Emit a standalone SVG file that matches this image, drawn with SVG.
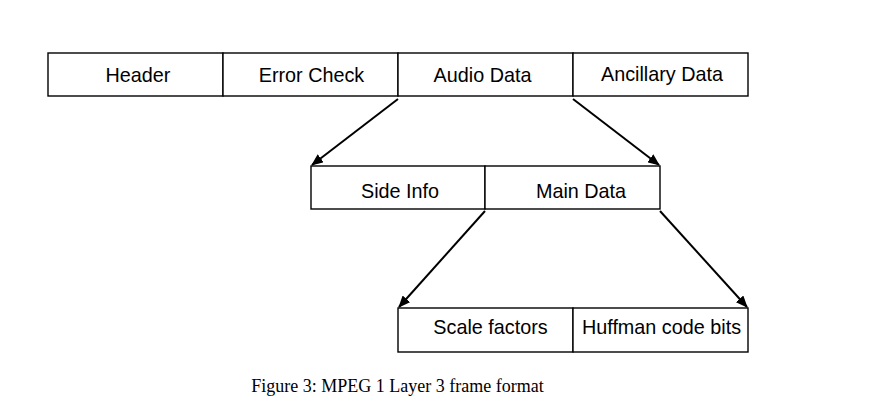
<svg xmlns="http://www.w3.org/2000/svg" width="888" height="412" viewBox="0 0 888 412">
<style>
.box{fill:#fff;stroke:#000;stroke-width:1.4}
.lbl{font-family:"Liberation Sans",Arial,sans-serif;font-size:19.8px;fill:#000;text-anchor:middle}
.cap{font-family:"Liberation Serif","Times New Roman",serif;font-size:18px;fill:#000;text-anchor:middle}
.arr{stroke:#000;stroke-width:2;fill:none;marker-end:url(#ah)}
</style>
<defs>
<marker id="ah" viewBox="0 0 12 10" refX="11" refY="5" markerWidth="12" markerHeight="10" markerUnits="userSpaceOnUse" orient="auto">
<path d="M0,0 L12,5 L0,10 Z" fill="#000"/>
</marker>
</defs>
<rect width="888" height="412" fill="#fff"/>
<g id="header"><rect class="box" x="48" y="53" width="175" height="43"/><text class="lbl" x="138" y="82">Header</text></g>
<g id="error-check"><rect class="box" x="223" y="53" width="175" height="43"/><text class="lbl" x="311.5" y="82">Error Check</text></g>
<g id="audio-data"><rect class="box" x="398" y="53" width="175" height="43"/><text class="lbl" x="482.5" y="82">Audio Data</text></g>
<g id="ancillary-data"><rect class="box" x="573" y="53" width="175" height="43"/><text class="lbl" x="662" y="80.5">Ancillary Data</text></g>
<g id="side-info"><rect class="box" x="311" y="166" width="174" height="43"/><text class="lbl" x="400" y="198">Side Info</text></g>
<g id="main-data"><rect class="box" x="485" y="166" width="175" height="43"/><text class="lbl" x="581" y="198">Main Data</text></g>
<g id="scale-factors"><rect class="box" x="398" y="308" width="175" height="44"/><text class="lbl" x="490.5" y="334">Scale factors</text></g>
<g id="huffman"><rect class="box" x="573" y="308" width="175" height="44"/><text class="lbl" x="661.5" y="334">Huffman code bits</text></g>
<g id="connectors">
<line class="arr" x1="398" y1="99" x2="312" y2="165"/>
<line class="arr" x1="573" y1="99" x2="659" y2="165"/>
<line class="arr" x1="485" y1="211" x2="399" y2="307"/>
<line class="arr" x1="660" y1="211" x2="747" y2="307"/>
</g>
<text class="cap" x="397.5" y="392">Figure 3: MPEG 1 Layer 3 frame format</text>
</svg>
